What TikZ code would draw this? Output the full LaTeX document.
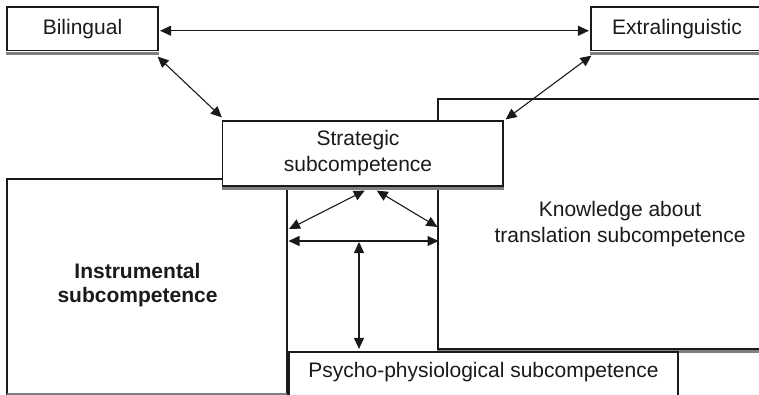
\documentclass[tikz,border=0pt]{standalone}
\usepackage{fontspec}
\setmainfont{Liberation Sans}
\usetikzlibrary{arrows.meta}
\definecolor{ink}{HTML}{1A1A1A}
\definecolor{shade}{HTML}{7F7F7F}
\begin{document}
\begin{tikzpicture}[x=1pt,y=-1pt,
  box/.style={draw=ink,line width=1.2pt,fill=white,inner sep=0pt,
    font=\fontsize{21}{26}\selectfont,align=center,text=ink},
  lbl/.style={font=\fontsize{21}{26}\selectfont,align=center,text=ink,inner sep=0pt},
  shadowstrip/.style={fill=shade},
  link/.style={draw=ink,line width=1.1pt,
    {Triangle[length=11pt,width=10pt]}-{Triangle[length=11pt,width=10pt]}}]
\useasboundingbox (0,0) rectangle (759,395);
\clip (0,0) rectangle (759,395);

% instrumental block (bottom left, runs off the lower edge)
\node[box,minimum width=280pt,minimum height=219pt] (ins) at (147,288.5) {};
\fill[shadowstrip] (7,393) rectangle (287,396);
\node[lbl,font=\fontsize{21}{24}\selectfont\bfseries] (inst) at (137.5,285) {Instrumental\\subcompetence};

% knowledge block (right, runs off the right edge)
\node[box,minimum width=364pt,minimum height=250pt] (kno) at (620,224)
  {Knowledge about\\translation subcompetence};
\fill[shadowstrip] ([yshift=-0.6pt]kno.south west) rectangle ([yshift=-3.8pt]kno.south east);

% strategic block on top of both
\node[box,minimum width=280.5pt,minimum height=65pt] (str) at (362.75,153.5) {};
\fill[shadowstrip] ([yshift=-0.6pt]str.south west) rectangle ([yshift=-3.8pt]str.south east);
\node[lbl] (strt) at (358,153.5) {Strategic\\subcompetence};

% psycho-physiological block at the bottom
\node[box,minimum width=389pt,minimum height=46pt] (psy) at (483.5,375) {};
\node[lbl] (psyt) at (483.5,372) {Psycho-physiological subcompetence};

% top row
\node[box,minimum width=151pt,minimum height=43.5pt] (bil) at (82.5,28.75) {Bilingual};
\fill[shadowstrip] ([yshift=-0.6pt]bil.south west) rectangle ([yshift=-3.8pt]bil.south east);
\node[box,minimum width=172pt,minimum height=43.5pt] (ext) at (677,28.75) {Extralinguistic};
\fill[shadowstrip] ([yshift=-0.6pt]ext.south west) rectangle ([yshift=-3.8pt]ext.south east);

% ends of the links inside the channel between the blocks
\coordinate (chL) at (289,229);
\coordinate (chR) at (437.5,227);
\coordinate (hL) at (288.5,241);
\coordinate (hR) at (438.5,241);
\coordinate (vt) at (359,242);

% links
\draw[link] ([xshift=1.5pt,yshift=-2pt]bil.east) -- ([xshift=-1.5pt,yshift=-2pt]ext.west);
\draw[link] ([xshift=-1pt,yshift=-5.5pt]bil.south east) -- ([yshift=3pt]str.north west);
\draw[link] ([xshift=1pt,yshift=-4.5pt]ext.south west) -- ([xshift=2pt,yshift=1pt]str.north east);
\draw[link] ([xshift=2pt,yshift=-4pt]str.south) -- (chL);
\draw[link] ([xshift=14pt,yshift=-4pt]str.south) -- (chR);
\draw[link] (hL) -- (hR);
\draw[link] (vt) -- ([yshift=2.5pt]vt |- psy.north);
\end{tikzpicture}
\end{document}
